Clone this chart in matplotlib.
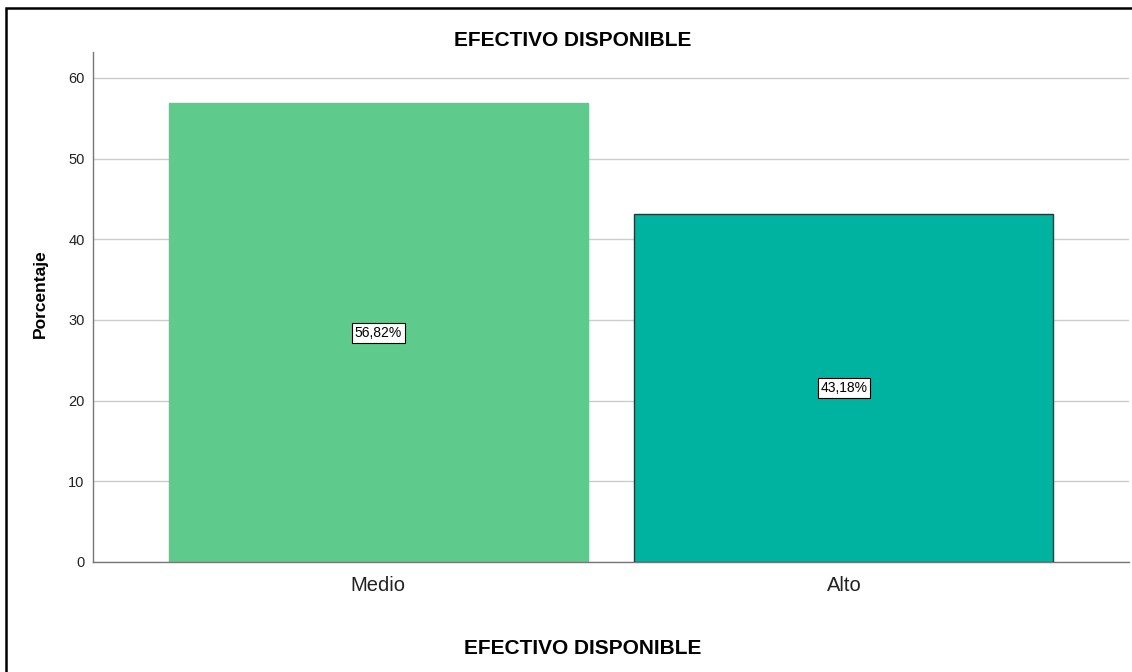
import matplotlib.pyplot as plt
from matplotlib.patches import Rectangle

plt.rcParams['font.family'] = ['Liberation Sans', 'DejaVu Sans']

categories = ['Medio', 'Alto']
values = [56.82, 43.18]
labels = ['56,82%', '43,18%']
colors = ['#5ECB8C', '#00B2A0']
edges = ['#5ECB8C', '#1f3a36']
yticks = [0, 10, 20, 30, 40, 50, 60]

fig = plt.figure(figsize=(11.32, 6.72), dpi=100)
ax = fig.add_axes([0.0822, 0.1637, 0.9151, 0.7589])

# outer frame (left / top visible)
fig.patches.append(Rectangle((0.0053, -0.05), 1.2, 1.038, transform=fig.transFigure,
                             fill=False, edgecolor='black', linewidth=1.8))

x = list(range(len(categories)))
bars = ax.bar(x, values, width=0.9, color=colors, edgecolor=edges, linewidth=1.0, zorder=2)

for xi, v, lab in zip(x, values, labels):
    ax.text(xi, v / 2, lab, ha='center', va='center', fontsize=10, zorder=3,
            bbox=dict(boxstyle='square,pad=0.2', facecolor='white', edgecolor='black', linewidth=0.8))

ax.set_xlim(-0.612, 1.612)
ax.set_ylim(0, 63.2)
ax.set_yticks(yticks)
ax.set_xticks(x)
ax.set_xticklabels(categories, fontsize=14.5, color='#222222')
ax.tick_params(axis='y', length=0, labelsize=10.5, pad=6, labelcolor='#222222')
ax.tick_params(axis='x', length=0, pad=10)
ax.yaxis.grid(True, color='#cccccc', linewidth=1.0, zorder=0)
ax.set_axisbelow(True)

for s in ['top', 'right']:
    ax.spines[s].set_visible(False)
for s in ['left', 'bottom']:
    ax.spines[s].set_color('#777777')
    ax.spines[s].set_linewidth(1.0)

fig.text(573 / 1132, 1 - 40 / 672, 'EFECTIVO DISPONIBLE', ha='center', va='center',
         fontsize=15, fontweight='bold')
fig.text(583 / 1132, 1 - 648 / 672, 'EFECTIVO DISPONIBLE', ha='center', va='center',
         fontsize=15, fontweight='bold')
fig.text(40 / 1132, 1 - 294 / 672, 'Porcentaje', rotation=90, ha='center', va='center',
         fontsize=12.5, fontweight='bold')

fig.savefig('out.png', dpi=100)
